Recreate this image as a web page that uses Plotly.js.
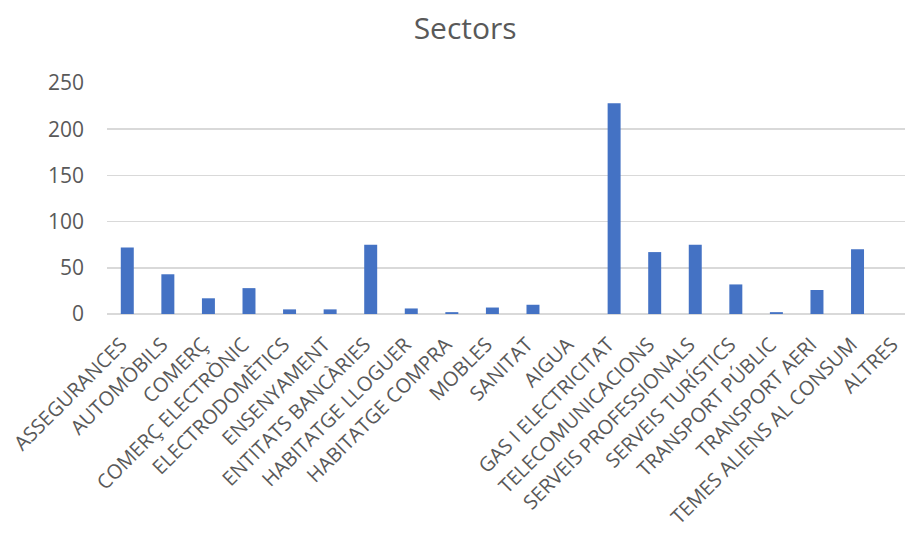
<!DOCTYPE html>
<html>
<head>
<meta charset="utf-8">
<script src="https://cdn.plot.ly/plotly-3.0.1.min.js"></script>
<style>html,body{margin:0;padding:0;background:#fff;}#chart{width:905px;height:533px;}</style>
</head>
<body>
<div id="chart"></div>
<script>
const categories = [
  "ASSEGURANCES", "AUTOMÒBILS", "COMERÇ", "COMERÇ ELECTRÒNIC", "ELECTRODOMÈTICS",
  "ENSENYAMENT", "ENTITATS BANCÀRIES", "HABITATGE LLOGUER", "HABITATGE COMPRA", "MOBLES",
  "SANITAT", "AIGUA", "GAS I ELECTRICITAT", "TELECOMUNICACIONS", "SERVEIS PROFESSIONALS",
  "SERVEIS TURÍSTICS", "TRANSPORT PÚBLIC", "TRANSPORT AERI", "TEMES ALIENS AL CONSUM", "ALTRES"
];
const values = [72, 43, 17, 28, 5, 5, 75, 6, 2, 7, 10, 0, 228, 67, 75, 32, 2, 26, 70, 0];
const yTicks = [0, 50, 100, 150, 200, 250];

const grey = "#595959";
const trace = {
  type: "bar",
  x: categories,
  y: values,
  marker: {color: "#4472C4"},
  hoverinfo: "x+y"
};
const layout = {
  width: 905,
  height: 533,
  margin: {l: 107, r: 0, t: 83, b: 219, pad: 0},
  paper_bgcolor: "#ffffff",
  plot_bgcolor: "#ffffff",
  bargap: 0.68,
  showlegend: false,
  title: {
    text: "Sectors",
    font: {family: "Open Sans", size: 30, color: grey},
    xref: "container", x: 0.514, xanchor: "center",
    yref: "container", y: 1 - 28/533, yanchor: "middle"
  },
  xaxis: {
    type: "category",
    range: [-0.5, 19.17],
    tickangle: -45,
    tickfont: {family: "Open Sans", size: 20, color: grey},
    showgrid: false,
    showline: false,
    ticks: "",
    ticklabelstandoff: 14,
    ticklabelshift: -6,
    fixedrange: true
  },
  yaxis: {
    range: [0, 250],
    tickvals: yTicks,
    ticktext: yTicks.map(String),
    tickfont: {family: "Open Sans", size: 21, color: grey},
    showgrid: true,
    gridcolor: "#d9d9d9",
    gridwidth: 1.5,
    zeroline: true,
    zerolinecolor: "#d9d9d9",
    zerolinewidth: 1.5,
    showline: false,
    ticks: "",
    ticklabelstandoff: 22,
    fixedrange: true
  }
};
Plotly.newPlot("chart", [trace], layout, {displayModeBar: false, staticPlot: true});
</script>
</body>
</html>
